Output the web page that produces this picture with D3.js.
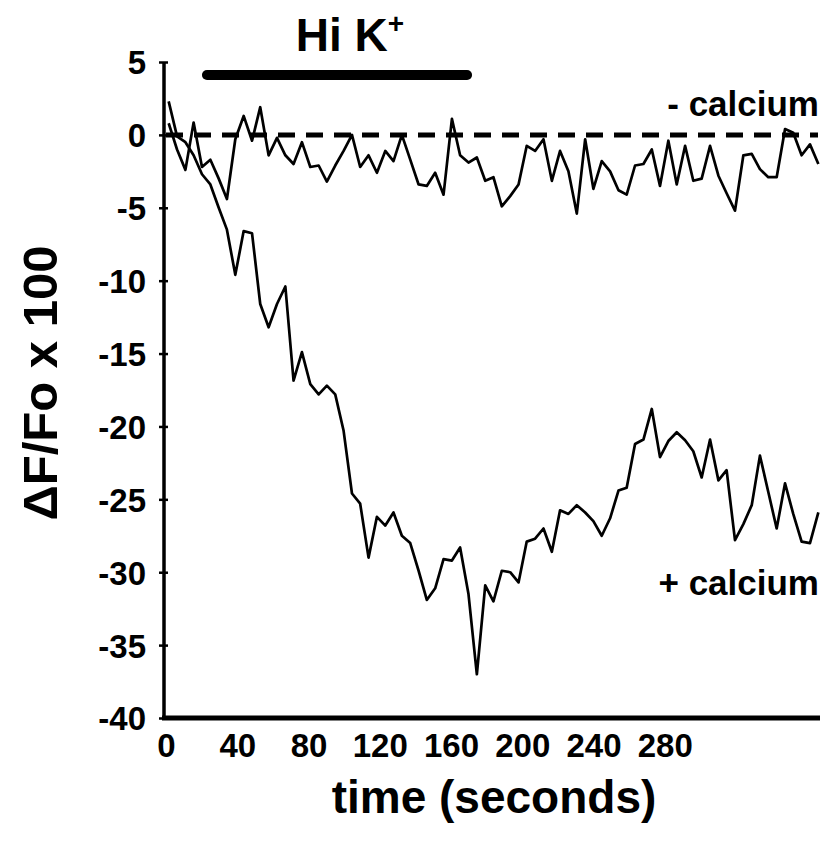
<!DOCTYPE html>
<html>
<head>
<meta charset="utf-8">
<script src="https://cdn.jsdelivr.net/npm/d3@7"></script>
<style>
  html, body { margin: 0; padding: 0; background: #fff; }
  svg text { font-family: "Liberation Sans", Arial, Helvetica, sans-serif; font-weight: bold; fill: #000; }
</style>
</head>
<body>
<svg id="chart" width="825" height="841"></svg>
<script>
// time grid (seconds)
const times = [1.5, 6.2, 10.9, 15.5, 20.2, 24.9, 29.6, 34.2, 38.9, 43.6,
  48.3, 52.9, 57.6, 62.3, 67.0, 71.6, 76.3, 81.0, 85.7, 90.3,
  95.0, 99.7, 104.4, 109.0, 113.7, 118.4, 123.1, 127.7, 132.4, 137.1,
  141.8, 146.4, 151.1, 155.8, 160.5, 165.1, 169.8, 174.5, 179.2, 183.8,
  188.5, 193.2, 197.9, 202.5, 207.2, 211.9, 216.6, 221.2, 225.9, 230.6,
  235.3, 239.9, 244.6, 249.3, 254.0, 258.6, 263.3, 268.0, 272.7, 277.3,
  282.0, 286.7, 291.4, 296.0, 300.7, 305.4, 310.1, 314.7, 319.4, 324.1,
  328.8, 333.4, 338.1, 342.8, 347.5, 352.1, 356.8, 361.5, 366.2];

// "- calcium" trace (ΔF/Fo x 100)
const minusCalcium = [0.8, -1.0, -2.4, 0.85, -2.2, -1.7, -3.0, -4.4, -0.3, 1.3,
  -0.4, 1.9, -1.4, -0.2, -1.4, -2.0, -0.5, -2.2, -2.1, -3.2,
  -2.1, -1.1, 0.0, -2.2, -1.4, -2.6, -1.1, -1.8, 0.0, -1.7,
  -3.4, -3.5, -2.6, -4.1, 1.1, -1.4, -1.9, -1.55, -3.15, -2.9,
  -4.9, -4.2, -3.4, -0.75, -1.1, -0.3, -3.15, -1.1, -2.5, -5.4,
  -0.3, -3.7, -1.8, -2.5, -3.8, -4.1, -2.1, -2.0, -1.0, -3.5,
  -0.4, -3.4, -0.75, -3.15, -3.0, -0.75, -2.8, -4.0, -5.2, -1.4,
  -1.3, -2.35, -2.9, -2.9, 0.4, 0.15, -1.4, -0.65, -2.0];

// "+ calcium" trace (ΔF/Fo x 100)
const plusCalcium = [2.3, -0.1, -0.5, -1.4, -2.7, -3.4, -5.0, -6.5, -9.6, -6.6,
  -6.75, -11.6, -13.2, -11.6, -10.4, -16.85, -14.9, -17.1, -17.8, -17.2,
  -17.8, -20.3, -24.6, -25.3, -29.0, -26.2, -26.8, -25.9, -27.5, -28.0,
  -29.9, -31.9, -31.1, -29.1, -29.2, -28.3, -31.5, -37.0, -30.9, -32.0,
  -29.9, -30.0, -30.7, -27.9, -27.7, -27.0, -28.6, -25.75, -26.0, -25.4,
  -25.9, -26.5, -27.5, -26.3, -24.4, -24.2, -21.2, -20.9, -18.8, -22.1,
  -21.0, -20.4, -20.95, -21.7, -23.5, -20.9, -23.7, -23.0, -27.8, -26.7,
  -25.4, -22.0, -24.5, -27.0, -23.9, -26.0, -27.9, -28.0, -25.9];

const baseline = [0, 366];      // dashed zero line extent (seconds)
const hiKPeriod = [23, 169];    // Hi K+ application (seconds)
const xTicks = [0, 40, 80, 120, 160, 200, 240, 280];
const yTicks = [5, 0, -5, -10, -15, -20, -25, -30, -35, -40];

const svg = d3.select("#chart");
const x = d3.scaleLinear().domain([0, 366]).range([166, 818]);
const y = d3.scaleLinear().domain([-40, 5]).range([718, 62]);

// Y axis
const yAxis = svg.append("g")
  .attr("transform", `translate(${x(0) - 2},0)`)
  .call(d3.axisLeft(y).tickValues(yTicks).tickSize(5).tickPadding(13).tickFormat(d3.format("d")));
yAxis.select(".domain").attr("d", `M0,${y(5)}V${y(-40) + 2}`).attr("stroke", "#000").attr("stroke-width", 3.5);
yAxis.selectAll(".tick line").attr("x1", 4).attr("stroke", "#000").attr("stroke-width", 2.5);
yAxis.selectAll(".tick text").attr("font-size", 33).attr("dy", "0.36em")
  .text(d => d < 0 ? "-" + Math.abs(d) : d);

// X axis
const xAxis = svg.append("g")
  .attr("transform", `translate(0,${y(-40)})`)
  .call(d3.axisBottom(x).tickValues(xTicks).tickSize(0).tickPadding(14).tickFormat(d3.format("d")));
xAxis.select(".domain").attr("d", `M${x(0) - 4},0H${x(366) + 2}`).attr("stroke", "#000").attr("stroke-width", 5);
xAxis.selectAll(".tick text").attr("font-size", 33).attr("dy", "0.76em");

// dashed zero line
svg.append("line")
  .attr("x1", x(baseline[0])).attr("x2", x(baseline[1]))
  .attr("y1", y(0)).attr("y2", y(0))
  .attr("stroke", "#000").attr("stroke-width", 5)
  .attr("stroke-dasharray", "17,11");

const line = d3.line().x((d, i) => x(times[i])).y(d => y(d));

svg.append("path").datum(minusCalcium)
  .attr("d", line).attr("fill", "none").attr("stroke", "#000")
  .attr("stroke-width", 2.7).attr("stroke-linejoin", "round");
svg.append("path").datum(plusCalcium)
  .attr("d", line).attr("fill", "none").attr("stroke", "#000")
  .attr("stroke-width", 2.7).attr("stroke-linejoin", "round");

// Hi K+ bar
svg.append("line")
  .attr("x1", x(hiKPeriod[0])).attr("x2", x(hiKPeriod[1]))
  .attr("y1", 75).attr("y2", 75)
  .attr("stroke", "#000").attr("stroke-width", 10).attr("stroke-linecap", "round");

const hik = svg.append("text").attr("x", 350).attr("y", 51).attr("text-anchor", "middle").attr("font-size", 46);
hik.append("tspan").text("Hi K");
hik.append("tspan").text("+").attr("font-size", 28).attr("dy", -18);

// series labels
svg.append("text").attr("x", 819).attr("y", 116).attr("text-anchor", "end").attr("font-size", 35).text("- calcium");
svg.append("text").attr("x", 819).attr("y", 595).attr("text-anchor", "end").attr("font-size", 35).text("+ calcium");

// axis titles
svg.append("text").attr("x", 494).attr("y", 813).attr("text-anchor", "middle").attr("font-size", 46).text("time (seconds)");
svg.append("text").attr("transform", "translate(57,383) rotate(-90)").attr("text-anchor", "middle").attr("font-size", 49).text("ΔF/Fo x 100");
</script>
</body>
</html>
